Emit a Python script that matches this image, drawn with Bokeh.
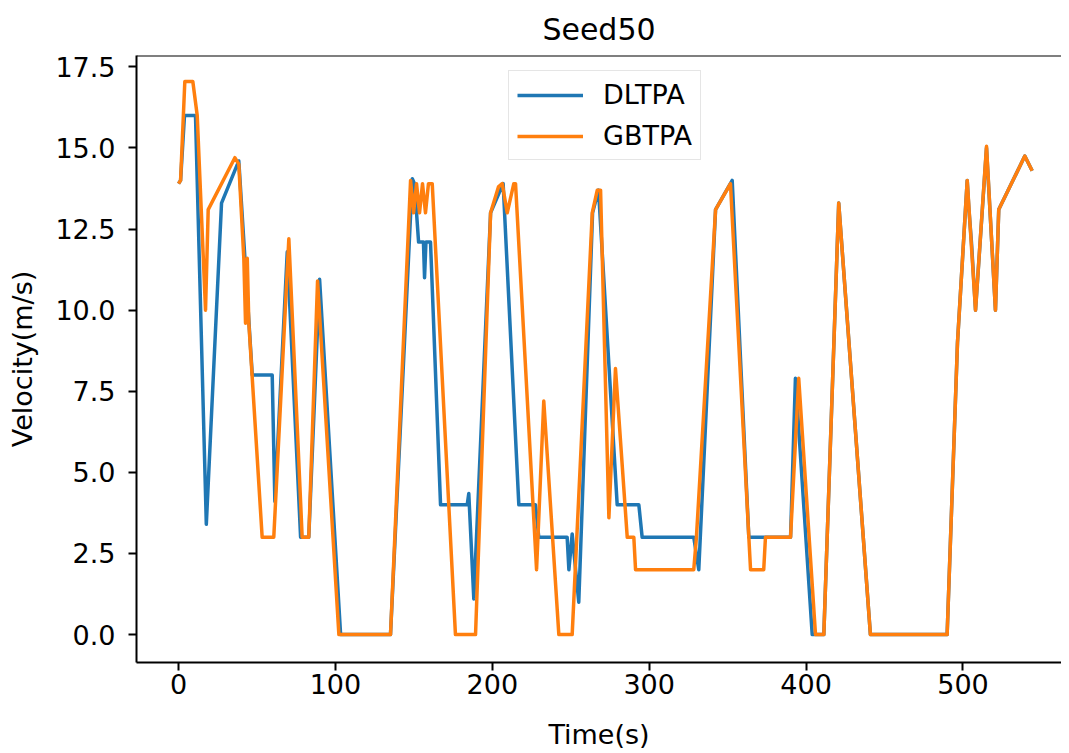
from bokeh.plotting import figure
from bokeh.models import Range1d, FixedTicker, PrintfTickFormatter, Span, Legend, LegendItem
from bokeh.embed import file_html
from bokeh.resources import INLINE

# ---- data (time in s, velocity in m/s) ----
dltpa_t = [0.0, 1.3, 3.8, 10.8, 17.7, 27.4, 38.4, 47.0, 59.7, 61.4, 69.3, 77.8, 83.0, 89.9,
           103.3, 135.1, 149.0, 150.4, 153.0, 156.1, 156.8, 157.7, 160.6, 167.0, 184.0, 185.0,
           188.2, 198.9, 206.9, 216.9, 227.5, 229.6, 247.7, 248.8, 250.9, 255.1, 263.9, 267.7,
           279.6, 293.4, 295.5, 328.4, 331.6, 342.3, 352.9, 363.5, 390.1, 393.2, 403.9, 411.3,
           420.8, 441.0, 489.9, 496.5, 502.7, 503.8, 505.4, 508.0, 515.0, 520.7, 522.8, 539.4, 544.1]
dltpa_v = [13.9, 14.0, 16.0, 16.0, 3.4, 13.3, 14.6, 8.0, 8.0, 4.1, 11.8, 3.0, 3.0, 10.95,
           0.0, 0.0, 14.05, 13.9, 12.1, 12.1, 11.0, 12.1, 12.1, 4.0, 4.0, 4.35,
           1.1, 13.0, 13.9, 4.0, 4.0, 3.0, 3.0, 2.0, 3.1, 1.0, 13.0, 13.7,
           4.0, 4.0, 3.0, 3.0, 2.0, 13.1, 14.0, 3.0, 3.0, 7.9, 0.0, 0.0,
           13.3, 0.0, 0.0, 9.0, 14.0, 13.1, 12.1, 10.0, 15.0, 10.0, 13.1, 14.75, 14.3]

gbtpa_t = [0.0, 1.3, 4.0, 9.1, 11.9, 17.2, 18.9, 35.9, 38.4, 41.6, 42.7, 43.8, 44.8, 53.3,
           60.7, 70.3, 78.8, 83.0, 88.6, 102.2, 135.1, 147.9, 149.8, 151.7, 153.6, 155.5,
           157.4, 159.3, 161.7, 176.5, 189.3, 198.9, 203.9, 206.3, 209.5, 213.7, 214.8, 228.2,
           232.8, 242.4, 250.9, 263.7, 266.9, 269.0, 274.3, 278.5, 286.0, 290.2, 291.3, 328.4,
           330.1, 342.3, 351.8, 363.5, 364.6, 373.0, 374.1, 390.1, 395.3, 406.0, 411.3, 420.8,
           441.0, 489.9, 496.5, 502.7, 508.0, 515.0, 520.7, 522.8, 539.4, 544.1]
gbtpa_v = [13.9, 14.0, 17.05, 17.05, 16.0, 10.0, 13.1, 14.7, 14.5, 11.6, 9.6, 11.6, 9.6, 3.0,
           3.0, 12.2, 3.0, 3.0, 10.9, 0.0, 0.0, 14.0, 13.0, 13.9, 13.0, 13.9,
           13.0, 13.9, 13.9, 0.0, 0.0, 13.0, 13.8, 13.9, 13.0, 13.9, 13.9, 2.0,
           7.2, 0.0, 0.0, 13.0, 13.7, 13.7, 3.6, 8.2, 3.0, 3.0, 2.0, 2.0,
           3.0, 13.1, 13.9, 3.0, 2.0, 2.0, 3.0, 3.0, 7.9, 0.0, 0.0, 13.3,
           0.0, 0.0, 9.0, 14.0, 10.0, 15.05, 10.0, 13.1, 14.75, 14.3]

x_ticks = [0, 100, 200, 300, 400, 500]
y_ticks = [0.0, 2.5, 5.0, 7.5, 10.0, 12.5, 15.0, 17.5]

FONT = "DejaVu Sans"
BLUE = "#1f77b4"
ORANGE = "#ff7f0e"

p = figure(width=1061, height=753, output_backend="svg", toolbar_location=None,
           x_range=Range1d(-26.8, 562.8), y_range=Range1d(-0.86, 17.85),
           title="Seed50", min_border_left=136, min_border_right=0,
           min_border_top=54, min_border_bottom=91)

p.title.text_font = FONT
p.title.text_font_size = "30px"
p.title.text_font_style = "normal"
p.title.align = "center"
p.title.text_color = "black"
p.title.standoff = 18

p.xgrid.visible = False
p.ygrid.visible = False
p.outline_line_color = None
p.background_fill_color = "white"
p.border_fill_color = "white"

top_line = Span(location=17.85, dimension="width", line_color="black", line_width=2)
p.add_layout(top_line)

l1 = p.line(dltpa_t, dltpa_v, line_color=BLUE, line_width=3.5, line_join="round")
l2 = p.line(gbtpa_t, gbtpa_v, line_color=ORANGE, line_width=3.5, line_join="round")

for ax in (p.xaxis[0], p.yaxis[0]):
    ax.axis_line_width = 2
    ax.axis_line_color = "black"
    ax.major_tick_line_width = 2
    ax.major_tick_line_color = "black"
    ax.major_tick_out = 8
    ax.major_tick_in = 0
    ax.minor_tick_line_color = None
    ax.major_label_text_font = FONT
    ax.major_label_text_font_size = "27px"
    ax.major_label_text_color = "black"
    ax.axis_label_text_font = FONT
    ax.axis_label_text_font_size = "27px"
    ax.axis_label_text_font_style = "normal"
    ax.axis_label_text_color = "black"

p.xaxis.ticker = FixedTicker(ticks=x_ticks)
p.yaxis.ticker = FixedTicker(ticks=y_ticks)
p.yaxis.formatter = PrintfTickFormatter(format="%.1f")
p.xaxis.axis_label = "Time(s)"
p.yaxis.axis_label = "Velocity(m/s)"
p.xaxis.major_label_standoff = 3
p.yaxis.major_label_standoff = 13
p.xaxis.axis_label_standoff = 22
p.yaxis.axis_label_standoff = 14

legend = Legend(items=[LegendItem(label="DLTPA", renderers=[l1]),
                       LegendItem(label="GBTPA", renderers=[l2])],
                location=(372, 502), margin=0, padding=8, spacing=10,
                glyph_width=66, glyph_height=30, label_height=30, label_standoff=20,
                label_text_font=FONT, label_text_font_size="27px", label_text_color="black",
                border_line_color="#cccccc", border_line_width=1.5,
                background_fill_color="white", background_fill_alpha=0.8)
p.add_layout(legend)

open("out.html", "w").write(file_html(p, INLINE))
